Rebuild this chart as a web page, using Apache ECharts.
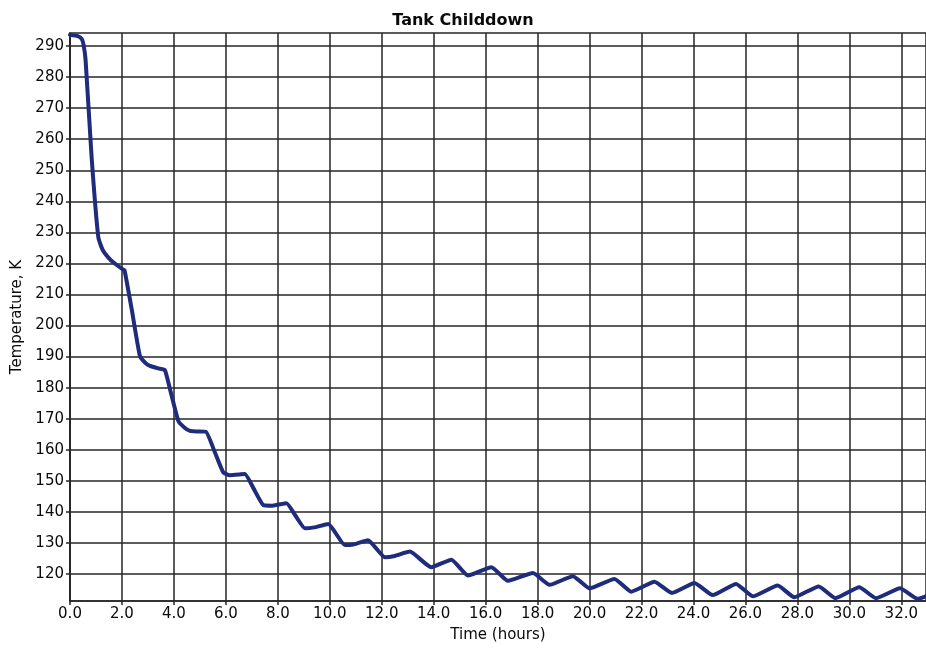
<!DOCTYPE html>
<html>
<head>
<meta charset="utf-8">
<script src="https://cdn.jsdelivr.net/npm/echarts@6/dist/echarts.min.js"></script>
<style>
html,body{margin:0;padding:0;background:#fff;}
#chart{width:926px;height:648px;}
</style>
</head>
<body>
<div id="chart"></div>
<script>
const titleText = 'Tank Childdown';
const xName = 'Time (hours)';
const yName = 'Temperature, K';
const xTicks = [0, 2, 4, 6, 8, 10, 12, 14, 16, 18, 20, 22, 24, 26, 28, 30, 32];
const yTicks = [120, 130, 140, 150, 160, 170, 180, 190, 200, 210, 220, 230, 240, 250, 260, 270, 280, 290];
const xRange = [0, 32.95];
const yRange = [111.3, 294.2];

const timeHours = [
  0, 0.3, 0.45, 0.52, 0.6, 0.83, 1.09, 1.25, 1.54, 1.8, 2.05,
  2.1, 2.37, 2.69, 2.9, 3.08, 3.4, 3.65, 3.85, 4.17, 4.4, 4.62, 4.9, 5.23,
  5.58, 5.9, 6.15, 6.5, 6.73, 7.1, 7.44, 7.8, 8.33, 8.7, 9.04, 9.4, 9.94,
  10.58, 10.9, 11.47, 12.12, 12.5, 13.08, 13.9, 14.68, 15.32, 16.22, 16.86,
  17.82, 18.46, 19.36, 20.0, 20.96, 21.6, 22.5, 23.17, 24.04, 24.74, 25.64,
  26.28, 27.24, 27.88, 28.82, 29.46, 30.38, 31.03, 31.95, 32.63, 32.95
];
const temperatureK = [
  293.6, 293.2, 292.3, 290.5, 285.5, 254.5, 228.4, 224.5, 221.3, 219.5, 218.0,
  217.8, 205.5, 190.2, 188.0, 187.0, 186.2, 185.7, 179.5, 169.3, 167.2, 166.1, 165.9, 165.8,
  159.1, 152.7, 151.8, 152.0, 152.2, 147.0, 142.2, 142.0, 142.8, 138.5, 134.7, 135.0, 136.1,
  129.3, 129.5, 130.9, 125.4, 125.8, 127.2, 122.2, 124.6, 119.5, 122.2, 117.8,
  120.3, 116.5, 119.3, 115.4, 118.4, 114.3, 117.5, 113.9, 117.1, 113.2, 116.8,
  112.8, 116.3, 112.5, 116.0, 112.2, 115.7, 112.2, 115.4, 112.0, 112.8
];

const seriesData = timeHours.map((t, i) => [t, temperatureK[i]]);

const chart = echarts.init(document.getElementById('chart'), null, {renderer: 'canvas'});
const font = 'DejaVu Sans';
const gridColor = '#262626';
const textColor = '#0a0a0a';
chart.setOption({
  animation: false,
  backgroundColor: '#ffffff',
  title: {
    text: titleText,
    left: 'center',
    top: 8,
    textStyle: {fontFamily: font, fontWeight: 'bold', fontSize: 16, color: textColor}
  },
  grid: {
    left: 70, right: 0, top: 33, bottom: 46,
    show: true, borderColor: gridColor, borderWidth: 1.5, backgroundColor: 'transparent'
  },
  xAxis: {
    type: 'value',
    min: xRange[0], max: xRange[1],
    name: xName,
    nameLocation: 'middle',
    nameGap: 27,
    nameTextStyle: {fontFamily: font, fontSize: 15, color: textColor},
    axisLine: {show: true, lineStyle: {color: gridColor, width: 1.5}},
    axisTick: {show: true, length: 4, customValues: xTicks, lineStyle: {color: gridColor, width: 1.5}},
    axisLabel: {
      customValues: xTicks,
      fontFamily: font, fontSize: 15, color: textColor, margin: 6,
      formatter: v => v.toFixed(1)
    },
    splitLine: {show: true, lineStyle: {color: gridColor, width: 1.5}}
  },
  yAxis: {
    type: 'value',
    min: yRange[0], max: yRange[1],
    name: yName,
    nameLocation: 'middle',
    nameGap: 45,
    nameTextStyle: {fontFamily: font, fontSize: 15, color: textColor},
    axisLine: {show: true, lineStyle: {color: gridColor, width: 1.5}},
    axisTick: {show: true, length: 4, customValues: yTicks, lineStyle: {color: gridColor, width: 1.5}},
    axisLabel: {
      customValues: yTicks,
      fontFamily: font, fontSize: 15, color: textColor, margin: 6
    },
    splitLine: {show: true, lineStyle: {color: gridColor, width: 1.5}}
  },
  series: [{
    type: 'line',
    data: seriesData,
    showSymbol: false,
    smooth: 0.15,
    lineStyle: {color: '#1f2b7b', width: 4, cap: 'round', join: 'round'},
    clip: true
  }]
});
</script>
</body>
</html>
